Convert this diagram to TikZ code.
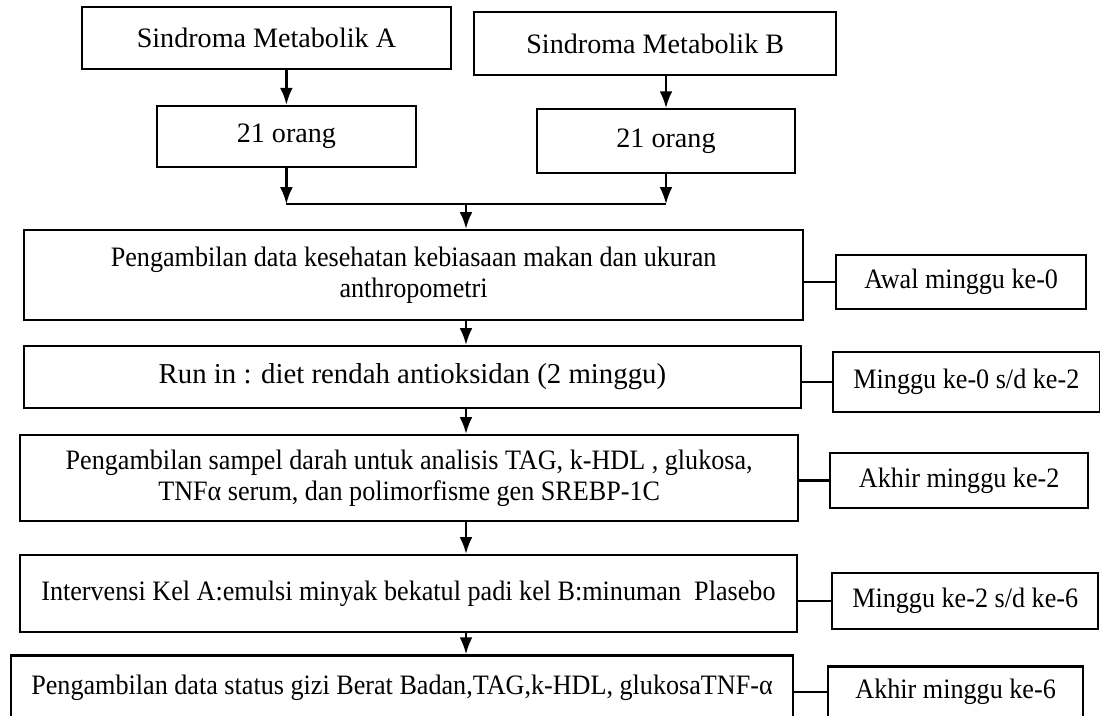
\documentclass[tikz,border=0pt]{standalone}
\usepackage{fontspec}
\setmainfont{Liberation Serif}
\newfontfamily\narrowfont{Liberation Serif}[FakeStretch=0.93]
\usepackage{tikz}
\usetikzlibrary{arrows.meta}

\begin{document}
\begin{tikzpicture}
                \useasboundingbox[fill=white] (0,0) rectangle (27.5,-17.9);
                \begin{scope}[every node/.style={draw, line width=1.6pt, inner sep=0pt, align=center, font=\narrowfont\fontsize{20}{22}\selectfont}]
                        \node[font=\rmfamily\fontsize{20}{22}\selectfont, minimum width=9.22cm, minimum height=1.55cm] (SMA) at (6.66,-0.95) {Sindroma Metabolik A};
                        \node[font=\rmfamily\fontsize{20}{22}\selectfont, minimum width=9.05cm, minimum height=1.58cm] (SMB) at (16.38,-1.09) {Sindroma Metabolik B};
                        \node[font=\rmfamily\fontsize{20}{22}\selectfont, minimum width=6.48cm, minimum height=1.53cm] (NA) at (7.16,-3.41) {21 orang};
                        \node[font=\rmfamily\fontsize{20}{22}\selectfont, minimum width=6.45cm, minimum height=1.6cm] (NB) at (16.65,-3.53) {21 orang};
                        \node[minimum width=19.48cm, minimum height=2.25cm] (P1) at (10.34,-6.875) {Pengambilan data kesehatan kebiasaan makan dan ukuran\\anthropometri};
                        \node[minimum width=6.25cm, minimum height=1.35cm] (R1) at (24.03,-7.05) {Awal minggu ke-0};
                        \node[font=\rmfamily\fontsize{20.5}{22}\selectfont, minimum width=19.43cm, minimum height=1.55cm] (P2) at (10.31,-9.425) {Run in : diet rendah antioksidan (2 minggu)};
                        \node[minimum width=6.68cm, minimum height=1.5cm] (R2) at (24.16,-9.55) {Minggu ke-0 s/d ke-2};
                        \node[minimum width=19.45cm, minimum height=2.15cm] (P3) at (10.23,-11.95) {Pengambilan sampel darah untuk analisis TAG, k-HDL , glukosa,\\TNFα serum, dan polimorfisme gen SREBP-1C};
                        \node[minimum width=6.45cm, minimum height=1.38cm] (R3) at (23.98,-12.01) {Akhir minggu ke-2};
                        \node[minimum width=19.43cm, minimum height=1.93cm] (P4) at (10.21,-14.84) {Intervensi Kel A:emulsi minyak bekatul padi kel B:minuman\ \ Plasebo};
                        \node[minimum width=6.65cm, minimum height=1.4cm] (R4) at (24.13,-15.03) {Minggu ke-2 s/d ke-6};
                        \node[minimum width=19.55cm, minimum height=1.63cm] (P5) at (10.05,-17.2) {Pengambilan data status gizi Berat Badan,TAG,k-HDL, glukosaTNF-α};
                        \node[minimum width=6.38cm, minimum height=1.28cm] (R5) at (23.89,-17.3) {Akhir minggu ke-6};
                \end{scope}
                \coordinate (J) at (11.65,-5.1);
                \begin{scope}[every path/.style={line width=1.6pt, ->, >={Latex[length=4.2mm,width=3.2mm]}}]
                        \path (SMA.south -| NA.north) edge (NA.north);
                        \path (SMB.south -| NB.north) edge (NB.north);
                        \path (NA.south) edge (NA.south |- J);
                        \path (NB.south) edge (NB.south |- J);
                        \path (NA.south |- J) edge [-] (NB.south |- J);
                        \path (J) edge (J |- P1.north);
                        \path (P1.south -| J) edge (P2.north -| J);
                        \path (P2.south -| J) edge (P3.north -| J);
                        \path (P3.south -| J) edge (P4.north -| J);
                        \path (P4.south -| J) edge (P5.north -| J);
                        \path (P1.east |- R1.west) edge [-] (R1.west);
                        \path (P2.east |- R2.west) edge [-] (R2.west);
                        \path (P3.east |- R3.west) edge [-] (R3.west);
                        \path (P4.east |- R4.west) edge [-] (R4.west);
                        \path (P5.east |- R5.west) edge [-] (R5.west);
                \end{scope}
\end{tikzpicture}
\end{document}
